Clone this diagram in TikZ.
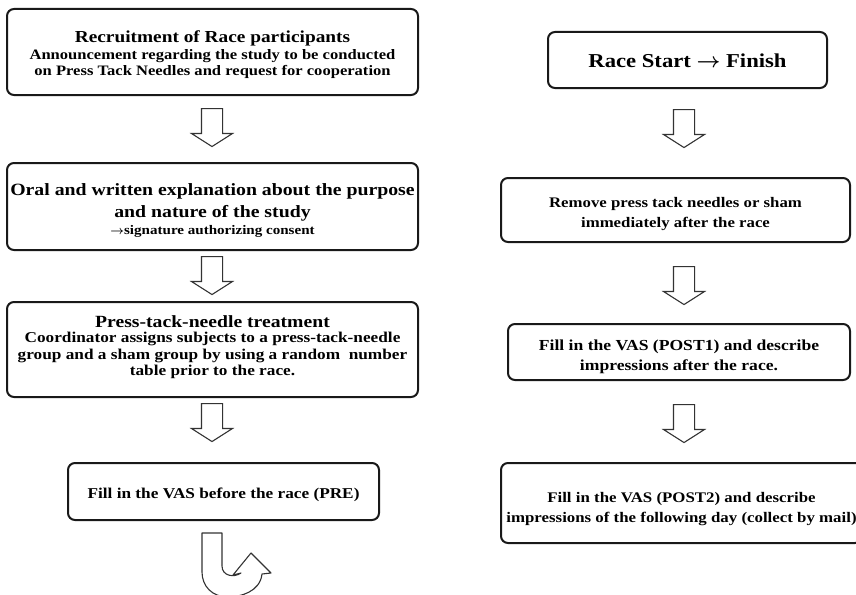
\documentclass[tikz,border=0pt]{standalone}
\usepackage{fontspec}
\setmainfont{Liberation Serif}[FakeStretch=1.15]
\usetikzlibrary{shapes.arrows,calc}
\begin{document}
\begin{tikzpicture}[x=1pt,y=-1pt,
  box/.style={draw=black!90,line width=2pt,rounded corners=7pt,inner sep=0pt},
  txt/.style={inner sep=0pt,align=center,font=\bfseries\fontsize{14.4}{16}\selectfont},
  blockarrow/.style={single arrow,draw=black!80,line width=1.1pt,fill=white,rotate=-90,
    anchor=tail,inner sep=0pt,inner ysep=10pt,minimum height=38pt,
    single arrow head extend=10pt,single arrow tip angle=115},
  uarrow/.style={draw=black!80,line width=1.1pt,fill=white,line join=round}]
\useasboundingbox (0,0) rectangle (856,594);
\clip (0,0) rectangle (856,594);
% left column boxes
\node[box,minimum width=411pt,minimum height=86pt] (b1) at (212.5,52) {};
\node[box,minimum width=411pt,minimum height=87pt] (b2) at (212.5,206.5) {};
\node[box,minimum width=411pt,minimum height=95pt] (b3) at (212.5,349.5) {};
\node[box,minimum width=311pt,minimum height=57pt] (b4) at (223.5,491.5) {};
% right column boxes
\node[box,minimum width=279pt,minimum height=56pt] (r1) at (687.5,60) {};
\node[box,minimum width=349pt,minimum height=64pt] (r2) at (675.5,210) {};
\node[box,minimum width=342pt,minimum height=56pt] (r3) at (679,352) {};
\node[box,minimum width=361pt,minimum height=80pt] (r4) at (681.5,503) {};
% texts
\node[txt] (t1) at ($(b1.center)+(0,2.5)$)
  {{\fontsize{16.8}{18}\selectfont Recruitment of Race participants}\\[1pt]
   Announcement regarding the study to be conducted\\
   on Press Tack Needles and request for cooperation};
\node[txt,font=\bfseries\fontsize{17.2}{21.5}\selectfont] (t2) at ($(b2.center)+(0,4)$)
  {Oral and written explanation about the purpose\\
   and nature of the study\\[-4pt]
   {\fontsize{13.1}{15}\selectfont {\boldmath$\rightarrow$}signature authorizing consent}};
\node[txt,font=\bfseries\fontsize{15}{16.5}\selectfont] (t3) at ($(b3.center)+(0,-2)$)
  {{\fontsize{17.1}{18}\selectfont Press-tack-needle treatment}\\[-1.5pt]
   Coordinator assigns subjects to a press-tack-needle\\
   group and a sham group by using a random\ \ number\\
   table prior to the race.};
\node[txt,font=\bfseries\fontsize{15}{17}\selectfont] (t4) at ($(b4.center)+(0,3)$)
  {Fill in the VAS before the race (PRE)};
\node[txt,font=\bfseries\fontsize{19.7}{22}\selectfont] (u1) at ($(r1.center)+(0,1)$)
  {Race Start {\boldmath$\rightarrow$} Finish};
\node[txt,font=\bfseries\fontsize{14.6}{20}\selectfont] (u2) at ($(r2.center)+(0,4)$)
  {Remove press tack needles or sham\\ immediately after the race};
\node[txt,font=\bfseries\fontsize{15.3}{20}\selectfont] (u3) at ($(r3.center)+(0,5)$)
  {Fill in the VAS (POST1) and describe\\ impressions after the race.};
\node[txt,font=\bfseries\fontsize{14.65}{20}\selectfont] (u4) at ($(r4.center)+(0,6)$)
  {Fill in the VAS (POST2) and describe\\ impressions of the following day (collect by mail)};
% block arrows
\coordinate (lx) at (212,0);
\coordinate (rx) at (684,0);
\node[blockarrow] (a1) at ($(b1.south -| lx)+(0,12)$) {};
\node[blockarrow] (a2) at ($(b2.south -| lx)+(0,5)$) {};
\node[blockarrow] (a3) at ($(b3.south -| lx)+(0,5)$) {};
\node[blockarrow] (ra1) at ($(r1.south -| rx)+(0,20)$) {};
\node[blockarrow] (ra2) at ($(r2.south -| rx)+(0,23)$) {};
\node[blockarrow] (ra3) at ($(r3.south -| rx)+(0,23)$) {};
% U-turn arrow
\draw[uarrow] (202,533) -- (222,533) -- (222,566)
  .. controls (222,576) and (234,578) .. (241,573) -- (233,575) -- (251,553) -- (271,573) -- (262,574)
  .. controls (260,592) and (240,597) .. (228,597)
  .. controls (212,597) and (202,586) .. (202,572) -- cycle;
\end{tikzpicture}
\end{document}
